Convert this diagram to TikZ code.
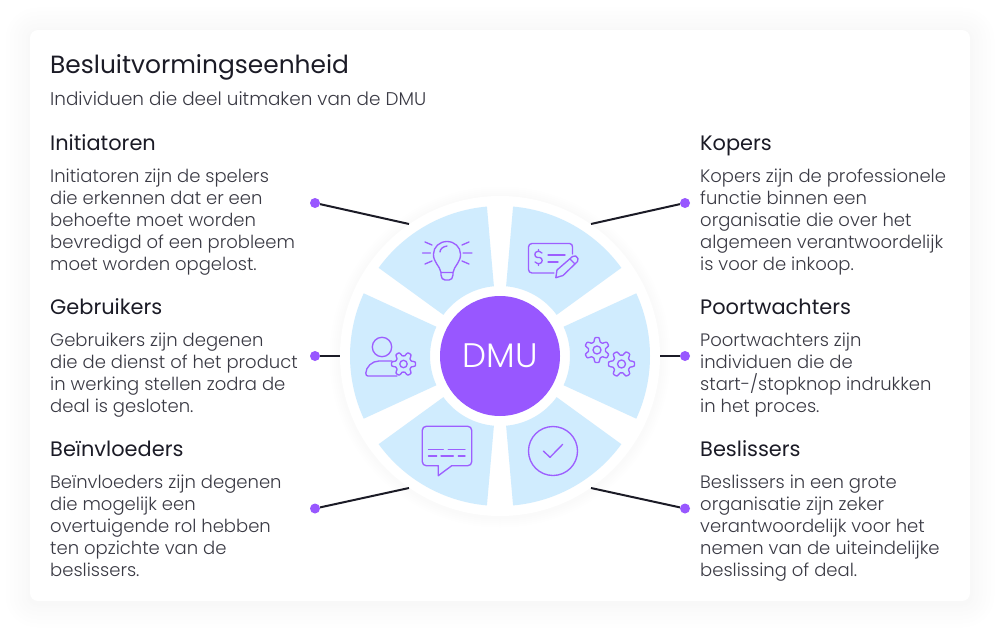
\documentclass[tikz,border=0pt]{standalone}
\usepackage{fontspec}
\setmainfont{Poppins}[UprightFont=* Light,BoldFont=* Medium]
\newfontfamily\regfont{Poppins}
\definecolor{purp}{HTML}{9857FF}
\definecolor{segblue}{HTML}{D0ECFE}
\definecolor{ink}{HTML}{1B1B26}
\definecolor{soft}{HTML}{3A3A44}
\tikzset{
  icon/.style={draw=purp!95!white,line width=1.35pt,line cap=round,line join=round},
  seg/.style={fill=segblue,draw=none},
  link/.style={draw=ink,line width=2pt},
  dot/.style={circle,fill=purp,inner sep=0,minimum size=10pt},
  titletext/.style={anchor=base west,inner sep=0,text=ink,font=\regfont\fontsize{24.9}{28}\selectfont},
  subtext/.style={anchor=base west,inner sep=0,text=soft,font=\fontsize{18.4}{22}\selectfont},
  headtext/.style={anchor=base west,inner sep=0,text=ink,font=\regfont\fontsize{20.9}{24}\selectfont},
  bodytext/.style={anchor=north west,inner sep=0,align=left,text=soft,font=\fontsize{18}{22}\selectfont},
}
\newcommand\wedgeseg[2]{\fill[seg] (#1:70) -- (#1:150) arc[start angle=#1,end angle=#2,radius=150] -- (#2:70) arc[start angle=#2,end angle=#1,radius=70] -- cycle;}
\newcommand\gearicon[5]{%
  \draw[icon] plot[smooth,domain=0:360,samples=73] ({#1+#3*(0.84+0.16*max(-1,min(1,1.7*cos(6*\x-#4))))*cos(\x)},{#2+#3*(0.84+0.16*max(-1,min(1,1.7*cos(6*\x-#4))))*sin(\x)}) -- cycle;
  \draw[icon] (#1,#2) circle[radius=#5];}
\newcommand\bodypara[4]{\node[bodytext] (#1) at (#2,#3-15.4) {\strut #4};}
\begin{document}
\begin{tikzpicture}[x=1pt,y=-1pt]
\useasboundingbox (0,0) rectangle (1000,631);
\fill[white] (0,0) rectangle (1000,631);
% card shadow: solid rings from faint to less faint
\foreach \i/\g in {24/0.4,20/0.8,16/1.2,12/1.6,8/2.0,4/2.4,2/2.8}{\fill[black!\g!white,rounded corners=8+\i] (30-\i,30-\i+2) rectangle (970+\i,601+\i+2);}
\fill[white,rounded corners=8] (30,30) rectangle (970,601);
% disc shadow
\foreach \i/\g in {10/0.4,8/0.8,6/1.2,4/1.6,2/2.0}{\fill[black!\g!white] (500,357) circle[radius=160+\i];}
\fill[white] (500,356) circle[radius=160];
\begin{scope}[shift={(500,356)},y=1pt]
\wedgeseg{95}{144}
\wedgeseg{155.3}{204.7}
\wedgeseg{216}{265}
\wedgeseg{275}{324}
\wedgeseg{335.3}{384.7}
\wedgeseg{36}{85}
\end{scope}
\node[circle,fill=purp,text=white,minimum size=120pt,inner sep=0,font=\fontsize{34}{38}\selectfont] (dmu) at (500,356) {DMU};
% connectors
\node[dot] (d1) at (315,203) {};
\node[dot] (d2) at (315,356) {};
\node[dot] (d3) at (315,508.5) {};
\node[dot] (d4) at (685,203) {};
\node[dot] (d5) at (685,356) {};
\node[dot] (d6) at (685,508.5) {};
\coordinate (e1) at (409,224);
\coordinate (e2) at (340,356);
\coordinate (e3) at (409,488);
\coordinate (e4) at (591,224);
\coordinate (e5) at (660,356);
\coordinate (e6) at (591,488);
\foreach \k in {1,...,6}{\draw[link] (d\k) -- (e\k);}
% bulb
\draw[icon] (441,272.5) .. controls (440,266) and (433,262) .. (433.5,254) .. controls (433.5,247) and (439.5,241.5) .. (447,241.5) .. controls (454.5,241.5) and (460.5,247) .. (460.5,254) .. controls (461,262) and (454,266) .. (453,272.5) -- cycle;
\draw[icon] (441,273) -- (441,275) .. controls (441,278) and (443,280) .. (445,280) -- (449,280) .. controls (451,280) and (453,278) .. (453,275) -- (453,273);
\draw[icon] (440,252) .. controls (440,249) and (443,246.5) .. (447,246);
\draw[icon] (422.5,253) -- (430.5,253) (463,253) -- (472,253) (425,242) -- (432,245) (469,242) -- (462,245) (425,264) -- (432,261) (469,264) -- (462,261);
% cheque
\draw[icon] (554,273) -- (532,273) .. controls (530,273) and (528.5,271.5) .. (528.5,269.5) -- (528.5,247) .. controls (528.5,245) and (530,243.5) .. (532,243.5) -- (569.5,243.5) .. controls (571.5,243.5) and (572.5,245) .. (572.5,247) -- (572.5,254);
\draw[icon] (548,255) -- (565,255) (548,262) -- (558,262);
\draw[icon] (542,253) .. controls (541.5,252) and (540.5,251.5) .. (539.5,251.5) -- (537.5,251.5) .. controls (534,251.5) and (534,257.5) .. (537.5,257.5) -- (539.5,257.5) .. controls (543,257.5) and (543,263.5) .. (539.5,263.5) -- (537.5,263.5) .. controls (536.5,263.5) and (535.5,263) .. (535,262) (538.5,249.5) -- (538.5,251.5) (538.5,263.5) -- (538.5,265.5);
\draw[icon] (555.8,277.7) -- (557,270) -- (572.5,256.5) .. controls (574.5,255) and (577,256) .. (578,258.5) .. controls (578.5,259.5) and (578,260.5) .. (577.5,261.5) -- (563,275.5) -- cycle;
\draw[icon] (570,259) -- (575,264);
% gears
\gearicon{597}{350}{12.5}{180}{4}
\gearicon{621.5}{364}{13}{0}{4}
% person
\draw[icon] (382,347) circle[radius=9.7];
\draw[icon] (392,361) -- (379,361) .. controls (372,361) and (366,367) .. (365.8,373) .. controls (365.8,375) and (366.5,376) .. (368,376) -- (397,376);
\gearicon{403.5}{364}{12}{0}{3.7}
% chat
\draw[icon] (426.3,426.3) -- (467.7,426.3) .. controls (470,426.3) and (471.7,428) .. (471.7,430.3) -- (471.7,461.7) .. controls (471.7,464) and (470,465.7) .. (467.7,465.7) -- (451.7,465.7) -- (438.3,475.7) -- (438.3,465.7) -- (426.3,465.7) .. controls (424,465.7) and (422.3,464) .. (422.3,461.7) -- (422.3,430.3) .. controls (422.3,428) and (424,426.3) .. (426.3,426.3) -- cycle;
\draw[icon] (428.5,449.7) -- (443.3,449.7) (448.3,449.7) -- (465,449.7) (428.5,456) -- (436.7,456) (441,456) -- (453.3,456) (458.3,456) -- (465,456);
% check
\draw[icon] (553,451) circle[radius=24.5];
\draw[icon] (543.3,451) -- (550,457.3) -- (562.7,444.3);
% texts
\node[titletext] (title) at (50,73.5) {Besluitvormingseenheid};
\node[subtext] (sub) at (50,106) {Individuen die deel uitmaken van de DMU};
\node[headtext] (h1) at (50,150.5) {Initiatoren};
\bodypara{p1}{50}{182}{Initiatoren zijn de spelers\\die erkennen dat er een\\behoefte moet worden\\bevredigd of een probleem\\moet worden opgelost.}
\node[headtext] (h2) at (50,314) {Gebruikers};
\bodypara{p2}{50}{346}{Gebruikers zijn degenen\\die de dienst of het product\\in werking stellen zodra de\\deal is gesloten.}
\node[headtext] (h3) at (50,456) {Beïnvloeders};
\bodypara{p3}{50}{488}{Beïnvloeders zijn degenen\\die mogelijk een\\overtuigende rol hebben\\ten opzichte van de\\beslissers.}
\node[headtext] (h4) at (700,150.5) {Kopers};
\bodypara{p4}{700}{182}{Kopers zijn de professionele\\functie binnen een\\organisatie die over het\\algemeen verantwoordelijk\\is voor de inkoop.}
\node[headtext] (h5) at (700,314) {Poortwachters};
\bodypara{p5}{700}{346}{Poortwachters zijn\\individuen die de\\start-/stopknop indrukken\\in het proces.}
\node[headtext] (h6) at (700,456) {Beslissers};
\bodypara{p6}{700}{488}{Beslissers in een grote\\organisatie zijn zeker\\verantwoordelijk voor het\\nemen van de uiteindelijke\\beslissing of deal.}
\end{tikzpicture}
\end{document}
